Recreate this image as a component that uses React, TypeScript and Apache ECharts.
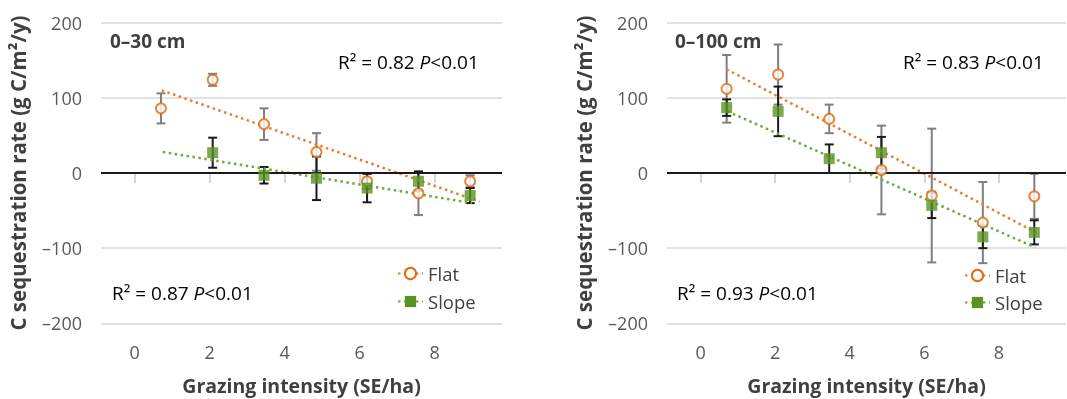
import React, { useEffect, useRef } from "react";
import * as echarts from "echarts";

// Grazing intensity (SE/ha) of the seven sites
const xValues = [0.7, 2.08, 3.45, 4.85, 6.2, 7.57, 8.95];

// 0–30 cm
const flat30 = [86, 124, 65, 28, -11, -27, -11];
const flat30Err = [20, 8, 21, 25, 10, 29, 8];
const slope30: (number | null)[] = [null, 27, -3, -7, -20, -11, -30];
const slope30Err: (number | null)[] = [null, 20, 11, 29, 19, 13, 10];
const flat30Trend = [[0.72, 110], [9.2, -38]];
const slope30Trend = [[0.75, 28], [9.0, -40]];

// 0–100 cm
const flat100 = [112, 131, 72, 4, -30, -66, -31];
const flat100Err = [45, 40, 19, 59, 89, 54, 30];
const slope100 = [87, 82, 19, 27, -43, -85, -79];
const slope100Err = [11, 33, 19, 21, 17, 15, 16];
const flat100Trend = [[0.7, 138], [9.1, -82]];
const slope100Trend = [[0.72, 82], [8.97, -99]];

const yTicks = { min: -200, max: 200, interval: 100 };
const xTickValues = [0, 2, 4, 6, 8];
const xRange = { min: -0.9, max: 9.8 };
const legendNames = ["Flat", "Slope"];

const ORANGE = "#E36A12";
const ORANGE_DOT = "#EA7D35";
const GREEN = "#5A9322";
const GREEN_DOT = "#6FAA3C";
const TEXT = "#404040";
const FONT = "'Open Sans', 'Noto Sans', sans-serif";

const points = (ys: (number | null)[]) =>
  xValues.map((x, i) => [x, ys[i]]).filter((d) => d[1] !== null);
const errs = (ys: (number | null)[], es: (number | null)[]) =>
  xValues
    .map((x, i) => (ys[i] === null ? null : [x, (ys[i] as number) - (es[i] as number), (ys[i] as number) + (es[i] as number)]))
    .filter((d) => d !== null);

function errorSeries(data: any[], idx: number, color: string) {
  return {
    type: "custom",
    xAxisIndex: idx,
    yAxisIndex: idx,
    encode: { x: 0, y: [1, 2] },
    data,
    silent: true,
    z: 3,
    renderItem: (params: any, api: any) => {
      const x = api.value(0);
      const top = api.coord([x, api.value(2)]);
      const bot = api.coord([x, api.value(1)]);
      const w = 4.5;
      const style = { stroke: color, lineWidth: 2 };
      return {
        type: "group",
        children: [
          { type: "line", shape: { x1: top[0], y1: top[1], x2: bot[0], y2: bot[1] }, style },
          { type: "line", shape: { x1: top[0] - w, y1: top[1], x2: top[0] + w, y2: top[1] }, style },
          { type: "line", shape: { x1: bot[0] - w, y1: bot[1], x2: bot[0] + w, y2: bot[1] }, style },
        ],
      };
    },
  };
}

function trendSeries(name: string, data: number[][], idx: number, color: string, symbol: string, markerColor: string) {
  return {
    name,
    type: "line",
    xAxisIndex: idx,
    yAxisIndex: idx,
    data,
    symbol,
    symbolSize: symbol === "emptyCircle" ? 11 : 12,
    showSymbol: false,
    silent: true,
    z: 4,
    itemStyle: symbol === "emptyCircle" ? { color: markerColor, borderWidth: 2.2 } : { color: markerColor },
    lineStyle: { color, width: 2.5, type: [2.5, 3.5] },
  };
}

function markerSeries(data: any[], idx: number, kind: "flat" | "slope") {
  return {
    name: kind === "flat" ? "flat-pts" : "slope-pts",
    type: "scatter",
    xAxisIndex: idx,
    yAxisIndex: idx,
    data,
    symbol: kind === "flat" ? "emptyCircle" : "rect",
    symbolSize: kind === "flat" ? 10 : 11,
    z: 5,
    itemStyle:
      kind === "flat"
        ? { color: ORANGE, borderColor: ORANGE, borderWidth: 1.8 }
        : { color: GREEN },
  };
}

function zeroLine(idx: number) {
  return {
    type: "line",
    xAxisIndex: idx,
    yAxisIndex: idx,
    data: [],
    silent: true,
    markLine: {
      silent: true,
      symbol: "none",
      label: { show: false },
      lineStyle: { color: "#1a1a1a", width: 2, type: "solid" },
      data: [{ yAxis: 0 }],
      animation: false,
    },
  };
}

const ANN = 19;
const rich = {
  n: { fontSize: ANN, color: TEXT, fontFamily: FONT },
  i: { fontSize: ANN, color: TEXT, fontFamily: FONT, fontStyle: "italic" },
};

function rText(x: number, y: number, r: string) {
  return {
    type: "text",
    x,
    y,
    style: {
      text: `{n|R² = ${r} }{i|P}{n|<0.01}`,
      rich,
      font: `${ANN}px ${FONT}`,
      align: "left",
      verticalAlign: "middle",
    },
  };
}

function label(x: number, y: number, t: string) {
  return {
    type: "text",
    x,
    y,
    style: { text: t, font: `bold ${ANN}px ${FONT}`, fill: TEXT, align: "left", verticalAlign: "middle" },
  };
}

function xAxis(idx: number) {
  return {
    type: "value",
    gridIndex: idx,
    ...xRange,
    name: "Grazing intensity (SE/ha)",
    nameLocation: "middle",
    nameGap: 52,
    nameTextStyle: { fontSize: 19.5, fontWeight: "bold", color: TEXT, fontFamily: FONT },
    axisLine: { show: false },
    axisTick: { show: true, customValues: xTickValues, length: 10, lineStyle: { color: "#C8C8C8", width: 1.5 } },
    axisLabel: { customValues: xTickValues, fontSize: 18, color: "#595959", margin: 20, fontFamily: FONT },
    splitLine: { show: false },
  };
}

function yAxis(idx: number) {
  return {
    type: "value",
    gridIndex: idx,
    ...yTicks,
    name: "C sequestration rate (g C/m²/y)",
    nameLocation: "middle",
    nameGap: 73,
    nameTextStyle: { fontSize: 20.5, fontWeight: "bold", color: TEXT, fontFamily: FONT },
    axisLine: { show: false },
    axisTick: { show: false },
    axisLabel: { fontSize: 18, color: "#595959", margin: 19, fontFamily: FONT, formatter: (v: number) => (v < 0 ? "–" + Math.abs(v) : String(v)) },
    splitLine: { show: true, lineStyle: { color: "#D9D9D9", width: 1.5 } },
  };
}

function legendItem(name: string, left: number, centerY: number) {
  return {
    data: [name],
    orient: "vertical",
    left,
    top: centerY - 10,
    padding: 0,
    itemWidth: 25,
    itemHeight: 14,
    selectedMode: false,
    textStyle: { fontSize: 18.5, color: TEXT, fontFamily: FONT },
  };
}

export default function App() {
  const ref = useRef<HTMLDivElement>(null);
  useEffect(() => {
    if (!ref.current) return;
    const chart = echarts.init(ref.current, undefined, { renderer: "svg" });
    chart.setOption({
      animation: false,
      textStyle: { fontFamily: FONT },
      grid: [
        { left: 101, top: 22.7, width: 401, height: 300.6, outerBoundsMode: "none", containLabel: false },
        { left: 667, top: 22.7, width: 399, height: 300.6, outerBoundsMode: "none", containLabel: false },
      ],
      xAxis: [xAxis(0), xAxis(1)],
      yAxis: [yAxis(0), yAxis(1)],
      legend: [
        legendItem(legendNames[0], 397, 274),
        legendItem(legendNames[1], 397, 302),
        legendItem(legendNames[0], 964, 276),
        legendItem(legendNames[1], 964, 303),
      ],
      series: [
        trendSeries("Flat", flat30Trend, 0, ORANGE_DOT, "emptyCircle", ORANGE),
        trendSeries("Slope", slope30Trend, 0, GREEN_DOT, "rect", GREEN),
        trendSeries("Flat", flat100Trend, 1, ORANGE_DOT, "emptyCircle", ORANGE),
        trendSeries("Slope", slope100Trend, 1, GREEN_DOT, "rect", GREEN),
        zeroLine(0),
        zeroLine(1),
        errorSeries(errs(flat30, flat30Err), 0, "#7F7F7F"),
        errorSeries(errs(slope30, slope30Err), 0, "#1a1a1a"),
        errorSeries(errs(flat100, flat100Err), 1, "#7F7F7F"),
        errorSeries(errs(slope100, slope100Err), 1, "#1a1a1a"),
        markerSeries(points(flat30), 0, "flat"),
        markerSeries(points(slope30), 0, "slope"),
        markerSeries(points(flat100), 1, "flat"),
        markerSeries(points(slope100), 1, "slope"),
      ],
      graphic: [
        label(110, 41, "0–30 cm"),
        label(675, 41, "0–100 cm"),
        rText(338, 62, "0.82"),
        rText(112, 293, "0.87"),
        rText(903, 62, "0.83"),
        rText(677, 293, "0.93"),
      ],
    });
    return () => chart.dispose();
  }, []);
  return <div ref={ref} style={{ position: "fixed", left: 0, top: 0, width: 1067, height: 399 }} />;
}
